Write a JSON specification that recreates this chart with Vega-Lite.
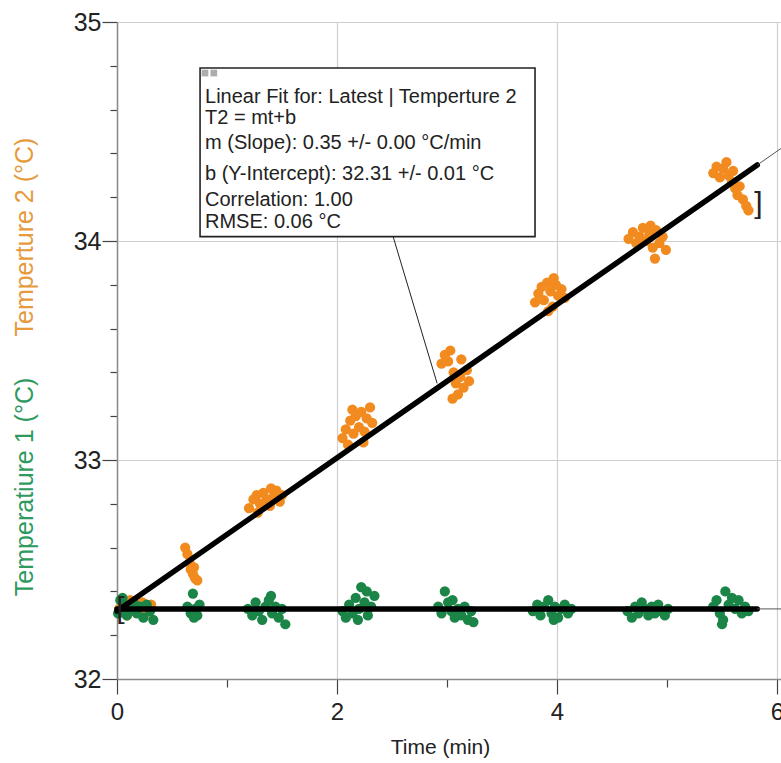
{
  "$schema": "https://vega.github.io/schema/vega-lite/v6.json",
  "width": 664,
  "height": 657,
  "autosize": {"type": "none"},
  "padding": {"left": 117, "top": 22, "right": 0, "bottom": 84},
  "background": "white",
  "config": {"view": {"stroke": null}, "font": "Liberation Sans"},
  "datasets": {
    "pts": [
      {"s":"T2","t":0.02,"v":32.32},{"s":"T2","t":0.05,"v":32.35},{"s":"T2","t":0.07,"v":32.30},{"s":"T2","t":0.10,"v":32.33},{"s":"T2","t":0.12,"v":32.36},{"s":"T2","t":0.15,"v":32.31},{"s":"T2","t":0.18,"v":32.34},{"s":"T2","t":0.20,"v":32.32},{"s":"T2","t":0.23,"v":32.35},{"s":"T2","t":0.26,"v":32.30},{"s":"T2","t":0.28,"v":32.33},{"s":"T2","t":0.31,"v":32.34},{"s":"T2","t":0.09,"v":32.29},
      {"s":"T2","t":0.62,"v":32.60},{"s":"T2","t":0.64,"v":32.57},{"s":"T2","t":0.66,"v":32.53},{"s":"T2","t":0.67,"v":32.50},{"s":"T2","t":0.69,"v":32.48},{"s":"T2","t":0.71,"v":32.46},{"s":"T2","t":0.73,"v":32.45},{"s":"T2","t":0.70,"v":32.51},
      {"s":"T2","t":1.20,"v":32.78},{"s":"T2","t":1.24,"v":32.82},{"s":"T2","t":1.27,"v":32.84},{"s":"T2","t":1.30,"v":32.80},{"s":"T2","t":1.33,"v":32.85},{"s":"T2","t":1.36,"v":32.82},{"s":"T2","t":1.39,"v":32.79},{"s":"T2","t":1.42,"v":32.83},{"s":"T2","t":1.45,"v":32.86},{"s":"T2","t":1.48,"v":32.81},{"s":"T2","t":1.50,"v":32.84},{"s":"T2","t":1.28,"v":32.76},{"s":"T2","t":1.40,"v":32.87},
      {"s":"T2","t":2.05,"v":33.10},{"s":"T2","t":2.08,"v":33.14},{"s":"T2","t":2.10,"v":33.07},{"s":"T2","t":2.12,"v":33.18},{"s":"T2","t":2.15,"v":33.12},{"s":"T2","t":2.17,"v":33.20},{"s":"T2","t":2.20,"v":33.15},{"s":"T2","t":2.22,"v":33.22},{"s":"T2","t":2.25,"v":33.13},{"s":"T2","t":2.27,"v":33.19},{"s":"T2","t":2.30,"v":33.24},{"s":"T2","t":2.32,"v":33.17},{"s":"T2","t":2.14,"v":33.23},{"s":"T2","t":2.24,"v":33.08},
      {"s":"T2","t":2.95,"v":33.44},{"s":"T2","t":2.98,"v":33.48},{"s":"T2","t":3.01,"v":33.45},{"s":"T2","t":3.03,"v":33.50},{"s":"T2","t":3.06,"v":33.40},{"s":"T2","t":3.08,"v":33.35},{"s":"T2","t":3.10,"v":33.30},{"s":"T2","t":3.12,"v":33.38},{"s":"T2","t":3.15,"v":33.33},{"s":"T2","t":3.18,"v":33.41},{"s":"T2","t":3.20,"v":33.36},{"s":"T2","t":3.05,"v":33.28},{"s":"T2","t":3.13,"v":33.46},
      {"s":"T2","t":3.80,"v":33.72},{"s":"T2","t":3.83,"v":33.76},{"s":"T2","t":3.86,"v":33.79},{"s":"T2","t":3.88,"v":33.73},{"s":"T2","t":3.91,"v":33.81},{"s":"T2","t":3.94,"v":33.77},{"s":"T2","t":3.96,"v":33.70},{"s":"T2","t":3.99,"v":33.80},{"s":"T2","t":4.01,"v":33.75},{"s":"T2","t":4.04,"v":33.78},{"s":"T2","t":4.07,"v":33.74},{"s":"T2","t":3.92,"v":33.68},{"s":"T2","t":3.97,"v":33.83},
      {"s":"T2","t":4.65,"v":34.01},{"s":"T2","t":4.69,"v":34.04},{"s":"T2","t":4.72,"v":33.99},{"s":"T2","t":4.75,"v":34.02},{"s":"T2","t":4.78,"v":34.06},{"s":"T2","t":4.81,"v":34.00},{"s":"T2","t":4.84,"v":34.03},{"s":"T2","t":4.87,"v":33.97},{"s":"T2","t":4.90,"v":34.05},{"s":"T2","t":4.93,"v":33.99},{"s":"T2","t":4.96,"v":34.02},{"s":"T2","t":4.99,"v":33.96},{"s":"T2","t":4.89,"v":33.92},{"s":"T2","t":4.85,"v":34.07},
      {"s":"T2","t":5.42,"v":34.31},{"s":"T2","t":5.45,"v":34.34},{"s":"T2","t":5.48,"v":34.29},{"s":"T2","t":5.51,"v":34.33},{"s":"T2","t":5.54,"v":34.36},{"s":"T2","t":5.56,"v":34.30},{"s":"T2","t":5.59,"v":34.27},{"s":"T2","t":5.62,"v":34.24},{"s":"T2","t":5.64,"v":34.21},{"s":"T2","t":5.66,"v":34.25},{"s":"T2","t":5.69,"v":34.19},{"s":"T2","t":5.72,"v":34.16},{"s":"T2","t":5.74,"v":34.14},{"s":"T2","t":5.60,"v":34.32},
      {"s":"T1","t":0.01,"v":32.30},{"s":"T1","t":0.03,"v":32.36},{"s":"T1","t":0.06,"v":32.33},{"s":"T1","t":0.09,"v":32.29},{"s":"T1","t":0.12,"v":32.32},{"s":"T1","t":0.15,"v":32.35},{"s":"T1","t":0.18,"v":32.30},{"s":"T1","t":0.21,"v":32.33},{"s":"T1","t":0.24,"v":32.28},{"s":"T1","t":0.27,"v":32.34},{"s":"T1","t":0.30,"v":32.31},{"s":"T1","t":0.33,"v":32.27},{"s":"T1","t":0.05,"v":32.37},
      {"s":"T1","t":0.64,"v":32.33},{"s":"T1","t":0.67,"v":32.30},{"s":"T1","t":0.69,"v":32.39},{"s":"T1","t":0.71,"v":32.32},{"s":"T1","t":0.73,"v":32.29},{"s":"T1","t":0.75,"v":32.34},{"s":"T1","t":0.70,"v":32.28},
      {"s":"T1","t":1.19,"v":32.32},{"s":"T1","t":1.23,"v":32.29},{"s":"T1","t":1.26,"v":32.35},{"s":"T1","t":1.29,"v":32.31},{"s":"T1","t":1.32,"v":32.27},{"s":"T1","t":1.35,"v":32.33},{"s":"T1","t":1.38,"v":32.36},{"s":"T1","t":1.41,"v":32.30},{"s":"T1","t":1.44,"v":32.33},{"s":"T1","t":1.47,"v":32.28},{"s":"T1","t":1.50,"v":32.32},{"s":"T1","t":1.53,"v":32.25},{"s":"T1","t":1.40,"v":32.38},
      {"s":"T1","t":2.05,"v":32.31},{"s":"T1","t":2.08,"v":32.28},{"s":"T1","t":2.11,"v":32.34},{"s":"T1","t":2.14,"v":32.30},{"s":"T1","t":2.17,"v":32.37},{"s":"T1","t":2.20,"v":32.32},{"s":"T1","t":2.22,"v":32.42},{"s":"T1","t":2.25,"v":32.35},{"s":"T1","t":2.28,"v":32.29},{"s":"T1","t":2.31,"v":32.33},{"s":"T1","t":2.34,"v":32.38},{"s":"T1","t":2.19,"v":32.27},{"s":"T1","t":2.27,"v":32.40},
      {"s":"T1","t":2.92,"v":32.33},{"s":"T1","t":2.95,"v":32.30},{"s":"T1","t":2.98,"v":32.40},{"s":"T1","t":3.01,"v":32.35},{"s":"T1","t":3.04,"v":32.31},{"s":"T1","t":3.07,"v":32.28},{"s":"T1","t":3.10,"v":32.32},{"s":"T1","t":3.13,"v":32.29},{"s":"T1","t":3.16,"v":32.33},{"s":"T1","t":3.19,"v":32.27},{"s":"T1","t":3.22,"v":32.31},{"s":"T1","t":3.24,"v":32.26},{"s":"T1","t":3.05,"v":32.36},
      {"s":"T1","t":3.78,"v":32.31},{"s":"T1","t":3.82,"v":32.34},{"s":"T1","t":3.85,"v":32.29},{"s":"T1","t":3.88,"v":32.33},{"s":"T1","t":3.92,"v":32.36},{"s":"T1","t":3.95,"v":32.30},{"s":"T1","t":3.98,"v":32.33},{"s":"T1","t":4.01,"v":32.28},{"s":"T1","t":4.04,"v":32.32},{"s":"T1","t":4.07,"v":32.34},{"s":"T1","t":4.10,"v":32.30},{"s":"T1","t":4.13,"v":32.32},{"s":"T1","t":3.97,"v":32.27},
      {"s":"T1","t":4.64,"v":32.31},{"s":"T1","t":4.68,"v":32.28},{"s":"T1","t":4.71,"v":32.33},{"s":"T1","t":4.74,"v":32.30},{"s":"T1","t":4.77,"v":32.35},{"s":"T1","t":4.80,"v":32.32},{"s":"T1","t":4.83,"v":32.29},{"s":"T1","t":4.86,"v":32.33},{"s":"T1","t":4.89,"v":32.30},{"s":"T1","t":4.92,"v":32.34},{"s":"T1","t":4.95,"v":32.31},{"s":"T1","t":4.98,"v":32.29},{"s":"T1","t":5.01,"v":32.32},
      {"s":"T1","t":5.42,"v":32.33},{"s":"T1","t":5.45,"v":32.36},{"s":"T1","t":5.48,"v":32.30},{"s":"T1","t":5.51,"v":32.27},{"s":"T1","t":5.53,"v":32.40},{"s":"T1","t":5.56,"v":32.34},{"s":"T1","t":5.59,"v":32.37},{"s":"T1","t":5.62,"v":32.32},{"s":"T1","t":5.65,"v":32.36},{"s":"T1","t":5.68,"v":32.30},{"s":"T1","t":5.71,"v":32.33},{"s":"T1","t":5.74,"v":32.31},{"s":"T1","t":5.50,"v":32.25}
    ],
    "thick": [
      {"s":"T2","t":0.0,"v":32.31},{"s":"T2","t":5.82,"v":34.347},
      {"s":"T1","t":0.0,"v":32.32},{"s":"T1","t":5.82,"v":32.32}
    ],
    "thin": [
      {"s":"T2","t":5.82,"v":34.347},{"s":"T2","t":6.04,"v":34.424},
      {"s":"T1","t":5.82,"v":32.32},{"s":"T1","t":6.04,"v":32.32}
    ],
    "box": [{"t":0.755,"t2":3.80,"v":34.79,"v2":34.02}],
    "leader": [{"t":2.51,"t2":2.91,"v":34.02,"v2":33.35}],
    "boxtext": [
      {"t":0.8,"v":34.658,"label":"Linear Fit for: Latest | Temperture 2"},
      {"t":0.8,"v":34.562,"label":"T2 = mt+b"},
      {"t":0.8,"v":34.447,"label":"m (Slope): 0.35 +/- 0.00 °C/min"},
      {"t":0.8,"v":34.306,"label":"b (Y-Intercept): 32.31 +/- 0.01 °C"},
      {"t":0.8,"v":34.187,"label":"Correlation: 1.00"},
      {"t":0.8,"v":34.087,"label":"RMSE: 0.06 °C"}
    ],
    "icons": [{"t":0.8,"v":34.767},{"t":0.88,"v":34.767}],
    "brackets": [{"t":0.03,"v":32.32,"label":"["},{"t":5.83,"v":34.17,"label":"]"}],
    "ytitles": [
      {"t":-0.836,"v":32.877,"label":"Temperatiure 1 (°C)","s":"T1"},
      {"t":-0.836,"v":34.018,"label":"Temperture 2 (°C)","s":"T2"}
    ]
  },
  "layer": [
    {
      "data": {"name": "pts"},
      "mark": {"type": "circle", "size": 105, "opacity": 1},
      "encoding": {
        "x": {"field": "t", "type": "quantitative",
          "scale": {"domain": [0, 6.036], "nice": false, "zero": false},
          "axis": {"title": "Time (min)", "values": [0,1,2,3,4,5,6], "format": ".0f",
            "labelExpr": "datum.value % 2 === 0 ? datum.label : ''",
            "tickSize": {"condition": {"test": "datum.value % 2 === 0", "value": 15}, "value": 8},
            "gridOpacity": {"condition": {"test": "datum.value % 2 === 0", "value": 1}, "value": 0},
            "grid": true, "gridColor": "#cfcfcf", "gridWidth": 1.2,
            "domainColor": "#8a8a8a", "domainWidth": 1.5, "tickColor": "#444", "tickWidth": 1.2,
            "labelFontSize": 24, "labelColor": "#222", "labelPadding": 6, "labelFlush": false,
            "titleFontSize": 21, "titleColor": "#222", "titleFontWeight": "normal", "titlePadding": 12, "titleX": 323}},
        "y": {"field": "v", "type": "quantitative",
          "scale": {"domain": [32, 35], "nice": false, "zero": false},
          "axis": {"title": null, "values": [32,32.2,32.4,32.6,32.8,33,33.2,33.4,33.6,33.8,34,34.2,34.4,34.6,34.8,35], "format": ".0f",
            "labelExpr": "abs(datum.value - round(datum.value)) < 0.001 ? datum.label : ''",
            "tickSize": {"condition": {"test": "abs(datum.value - round(datum.value)) < 0.001", "value": 15}, "value": 7},
            "gridOpacity": {"condition": {"test": "abs(datum.value - round(datum.value)) < 0.001", "value": 1}, "value": 0},
            "grid": true, "gridColor": "#cfcfcf", "gridWidth": 1.2,
            "domainColor": "#8a8a8a", "domainWidth": 1.5, "tickColor": "#444", "tickWidth": 1.2,
            "labelFontSize": 25, "labelColor": "#222", "labelPadding": 1}},
        "color": {"field": "s", "type": "nominal",
          "scale": {"domain": ["T1", "T2"], "range": ["#1b8548", "#f28b1f"]}, "legend": null}
      }
    },
    {
      "data": {"name": "thick"},
      "mark": {"type": "line", "color": "black", "strokeWidth": 5.5, "strokeCap": "round"},
      "encoding": {
        "x": {"field": "t", "type": "quantitative"},
        "y": {"field": "v", "type": "quantitative"},
        "detail": {"field": "s", "type": "nominal"}
      }
    },
    {
      "data": {"name": "thin"},
      "mark": {"type": "line", "color": "#555", "strokeWidth": 1},
      "encoding": {
        "x": {"field": "t", "type": "quantitative"},
        "y": {"field": "v", "type": "quantitative"},
        "detail": {"field": "s", "type": "nominal"}
      }
    },
    {
      "data": {"name": "leader"},
      "mark": {"type": "rule", "color": "#222", "strokeWidth": 1},
      "encoding": {
        "x": {"field": "t", "type": "quantitative"},
        "x2": {"field": "t2"},
        "y": {"field": "v", "type": "quantitative"},
        "y2": {"field": "v2"}
      }
    },
    {
      "data": {"name": "box"},
      "mark": {"type": "rect", "fill": "white", "stroke": "#222", "strokeWidth": 1.6},
      "encoding": {
        "x": {"field": "t", "type": "quantitative"},
        "x2": {"field": "t2"},
        "y": {"field": "v", "type": "quantitative"},
        "y2": {"field": "v2"}
      }
    },
    {
      "data": {"name": "icons"},
      "mark": {"type": "point", "shape": "square", "filled": true, "size": 45, "color": "#8a8a8a"},
      "encoding": {
        "x": {"field": "t", "type": "quantitative"},
        "y": {"field": "v", "type": "quantitative"}
      }
    },
    {
      "data": {"name": "boxtext"},
      "mark": {"type": "text", "align": "left", "baseline": "middle", "fontSize": 20, "color": "#222"},
      "encoding": {
        "x": {"field": "t", "type": "quantitative"},
        "y": {"field": "v", "type": "quantitative"},
        "text": {"field": "label"}
      }
    },
    {
      "data": {"name": "brackets"},
      "mark": {"type": "text", "align": "center", "baseline": "middle", "fontSize": 30, "color": "#222"},
      "encoding": {
        "x": {"field": "t", "type": "quantitative"},
        "y": {"field": "v", "type": "quantitative"},
        "text": {"field": "label"}
      }
    },
    {
      "data": {"name": "ytitles"},
      "mark": {"type": "text", "align": "center", "baseline": "middle", "fontSize": 25, "angle": 270},
      "encoding": {
        "x": {"field": "t", "type": "quantitative"},
        "y": {"field": "v", "type": "quantitative"},
        "text": {"field": "label"},
        "color": {"field": "s", "type": "nominal", "scale": {"domain": ["T1", "T2"], "range": ["#2f9a5f", "#e69a3c"]}, "legend": null}
      }
    }
  ],
  "resolve": {"scale": {"color": "independent"}}
}
